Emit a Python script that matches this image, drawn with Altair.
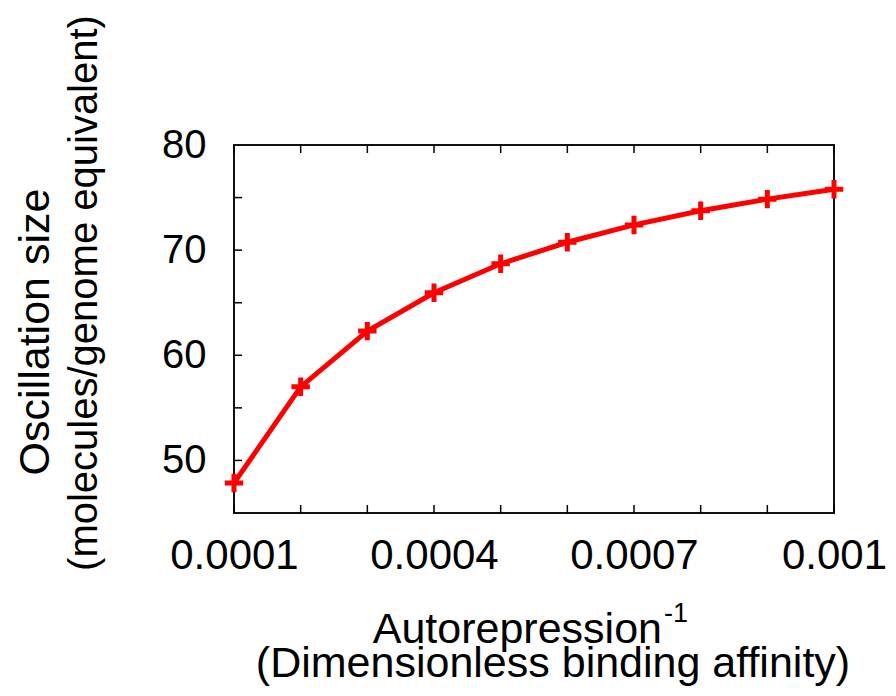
import altair as alt
import pandas as pd

# data
x_vals = [0.0001, 0.0002, 0.0003, 0.0004, 0.0005, 0.0006, 0.0007, 0.0008, 0.0009, 0.001]
y_vals = [47.85, 57.0, 62.3, 65.95, 68.7, 70.75, 72.4, 73.75, 74.85, 75.8]

x_label_values = [0.0001, 0.0004, 0.0007, 0.001]
y_label_values = [50, 60, 70, 80]
x_tick_values = [0.0001, 0.0002, 0.0003, 0.0004, 0.0005, 0.0006, 0.0007, 0.0008, 0.0009, 0.001]
y_tick_values = [50, 55, 60, 65, 70, 75]

x_title = "Autorepression"
x_title_sup = "-1"
x_title2 = "(Dimensionless binding affinity)"
y_title1 = "Oscillation size"
y_title2 = "(molecules/genome equivalent)"

FONT = "Liberation Sans"
W, H = 600, 368

df = pd.DataFrame({"x": x_vals, "y": y_vals})
xt = pd.DataFrame({"x": x_tick_values})
yt = pd.DataFrame({"y": y_tick_values})
one = pd.DataFrame({"k": [0]})

xscale = alt.Scale(domain=[0.0001, 0.001], nice=False, zero=False)
yscale = alt.Scale(domain=[45, 80], nice=False, zero=False)

xaxis = alt.Axis(values=x_label_values, format=".4~f", title=None, grid=False,
                 ticks=False, domain=False, labelFontSize=42, labelFont=FONT,
                 labelColor="#000", labelPadding=22, labelFlush=False,
                 labelOverlap=False)
yaxis = alt.Axis(values=y_label_values, format="d", title=None, grid=False,
                 ticks=False, domain=False, labelFontSize=40, labelFont=FONT,
                 labelColor="#000", labelPadding=28)

line = alt.Chart(df).mark_line(color="#ff0000", strokeWidth=5).encode(
    x=alt.X("x:Q", scale=xscale, axis=xaxis),
    y=alt.Y("y:Q", scale=yscale, axis=yaxis),
)
pts = alt.Chart(df).mark_point(
    shape="M-1,0L1,0M0,-1L0,1", filled=False, stroke="#ff0000",
    strokeWidth=5, size=340, opacity=1,
).encode(x=alt.X("x:Q", scale=xscale), y=alt.Y("y:Q", scale=yscale))

tick_style = dict(color="#000", strokeWidth=1.5)
xt_bottom = alt.Chart(xt).mark_rule(**tick_style).encode(
    x=alt.X("x:Q", scale=xscale), y=alt.value(H), y2=alt.value(H - 8))
xt_top = alt.Chart(xt).mark_rule(**tick_style).encode(
    x=alt.X("x:Q", scale=xscale), y=alt.value(0), y2=alt.value(8))
yt_left = alt.Chart(yt).mark_rule(**tick_style).encode(
    y=alt.Y("y:Q", scale=yscale), x=alt.value(0), x2=alt.value(8))

frame_style = dict(color="#111", strokeWidth=2)
f_top = alt.Chart(one).mark_rule(**frame_style).encode(
    x=alt.value(-1), x2=alt.value(W + 1), y=alt.value(0))
f_bot = alt.Chart(one).mark_rule(**frame_style).encode(
    x=alt.value(-1), x2=alt.value(W + 1), y=alt.value(H))
f_left = alt.Chart(one).mark_rule(**frame_style).encode(
    y=alt.value(0), y2=alt.value(H), x=alt.value(0))
f_right = alt.Chart(one).mark_rule(**frame_style).encode(
    y=alt.value(0), y2=alt.value(H), x=alt.value(W))

tstyle = dict(font=FONT, color="#000")
t_x1 = alt.Chart(pd.DataFrame({"t": [x_title]})).mark_text(
    fontSize=43, align="right", baseline="alphabetic", **tstyle
).encode(text="t:N", x=alt.value(428), y=alt.value(498))
t_xsup = alt.Chart(pd.DataFrame({"t": [x_title_sup]})).mark_text(
    fontSize=27, align="left", baseline="alphabetic", **tstyle
).encode(text="t:N", x=alt.value(430), y=alt.value(477))
t_x2 = alt.Chart(pd.DataFrame({"t": [x_title2]})).mark_text(
    fontSize=43, align="center", baseline="alphabetic", **tstyle
).encode(text="t:N", x=alt.value(319), y=alt.value(532))
t_y1 = alt.Chart(pd.DataFrame({"t": [y_title1]})).mark_text(
    fontSize=43, align="center", baseline="alphabetic", angle=270, **tstyle
).encode(text="t:N", x=alt.value(-185), y=alt.value(187))
t_y2 = alt.Chart(pd.DataFrame({"t": [y_title2]})).mark_text(
    fontSize=40, align="center", baseline="alphabetic", angle=270, **tstyle
).encode(text="t:N", x=alt.value(-137), y=alt.value(148))

chart = alt.layer(
    f_top, f_bot, f_left, f_right, line, pts, xt_bottom, xt_top, yt_left,
    t_x1, t_xsup, t_x2, t_y1, t_y2
).properties(
    width=W, height=H,
    autosize=alt.AutoSizeParams(type="none"),
    padding={"left": 226, "top": 137, "right": 54, "bottom": 183},
).configure_view(
    strokeWidth=0
).configure(background="white")

chart.save("out.html", embed_options={"renderer": "svg", "actions": False})
